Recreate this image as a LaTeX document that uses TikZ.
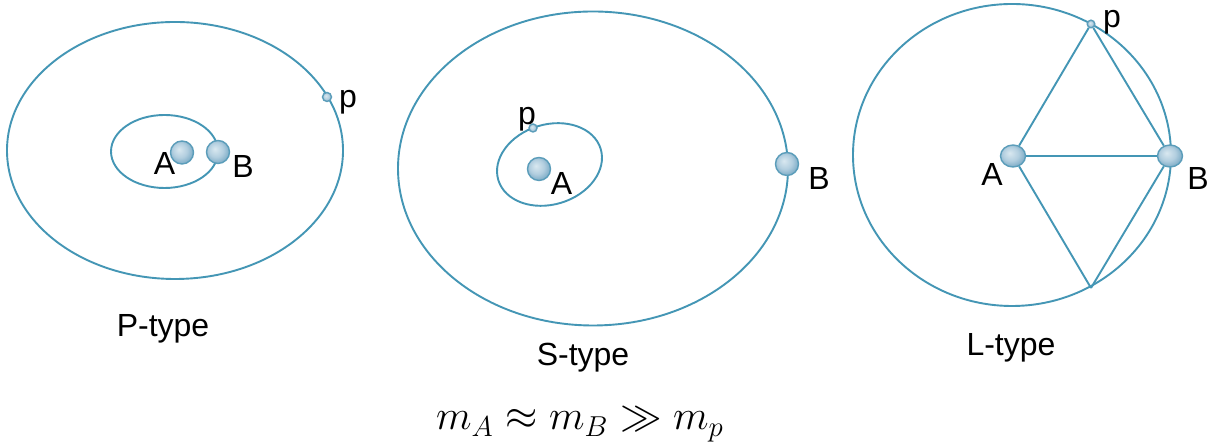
\documentclass[tikz,border=0pt]{standalone}
\usepackage{fontspec}
\newfontfamily\labelfont{Liberation Sans}
\usetikzlibrary{shapes.geometric}
\definecolor{ring}{HTML}{4496B5}
\definecolor{beadedge}{HTML}{5B9DBA}
\definecolor{beadlight}{HTML}{D9E8F0}
\definecolor{beadmid}{HTML}{B2CEDF}
\definecolor{beaddark}{HTML}{6FA3C0}
\pgfdeclareradialshading{bead}{\pgfpoint{-7bp}{7bp}}{%
  color(0bp)=(beadlight); color(16bp)=(beadmid); color(31bp)=(beaddark); color(50bp)=(beaddark)}
\tikzset{
  orbitline/.style={draw=ring, line width=0.95pt},
  body/.style={circle, draw=beadedge, line width=0.7pt, shading=bead,
    minimum size=11.5pt, inner sep=0pt},
  flatbody/.style={body, ellipse, minimum width=12.5pt, minimum height=11pt},
  planet/.style={body, minimum size=4.5pt},
  namelabel/.style={text=black, inner sep=0pt, font=\labelfont\fontsize{16}{19}\selectfont},
  typelabel/.style={namelabel, font=\labelfont\fontsize{16}{19}\selectfont}
}

\begin{document}
\begin{tikzpicture}[x=0.5pt,y=0.5pt]
  \useasboundingbox (0,0) rectangle (1211,448);
  \fill[white] (0,0) rectangle (1211,448);

  % P-type: planet round both stars
  \draw[orbitline] (175,297.5) ellipse [x radius=168, y radius=128.5];
  \draw[orbitline] (164.5,296.5) ellipse [x radius=53.5, y radius=36.5];
  \node[body] (pA) at (182,295.5) {};
  \node[body] (pB) at (218,296) {};
  \node[planet] (pp) at (327,351) {};
  \node[namelabel] (pAlbl) at (164.5,284) {A};
  \node[namelabel] (pBlbl) at (243,281) {B};
  \node[namelabel] (pplbl) at (348,346) {p};
  \node[typelabel] (ptype) at (163,119) {P-type};

  % S-type: planet round one star
  \draw[orbitline] (593,279.5) ellipse [x radius=195, y radius=157];
  \draw[orbitline] (549.5,283.5) ellipse [x radius=53.5, y radius=40, rotate=17];
  \node[body] (sA) at (539,279) {};
  \node[body] (sB) at (787,284) {};
  \node[planet, minimum size=4pt] (sp) at (533,320) {};
  \node[namelabel] (sAlbl) at (561.5,264) {A};
  \node[namelabel] (sBlbl) at (819,269) {B};
  \node[namelabel] (splbl) at (527,329) {p};
  \node[typelabel] (stype) at (583,90) {S-type};

  % L-type: planet at a Lagrange point
  \draw[orbitline] (1012,293) ellipse [x radius=159, y radius=151];
  \node[flatbody] (lA) at (1013,292) {};
  \node[flatbody] (lB) at (1170,292) {};
  \node[planet, minimum size=3.8pt] (lp) at (1091,424) {};
  \coordinate (lfive) at (1091,160);
  \draw[orbitline] (lA) -- (lp);
  \draw[orbitline] (lp) -- (lB);
  \draw[orbitline] (lA) -- (lB);
  \draw[orbitline] (lA) -- (lfive);
  \draw[orbitline] (lfive) -- (lB);
  \node[namelabel] (lAlbl) at (992,273) {A};
  \node[namelabel] (lBlbl) at (1198,269) {B};
  \node[namelabel] (lplbl) at (1112,426) {p};
  \node[typelabel] (ltype) at (1011,100) {L-type};

  \node[anchor=base, inner sep=0pt, font=\fontsize{20.5}{24}\selectfont] (masses) at (580,18)
    {$m_A \approx m_B \gg m_p$};
\end{tikzpicture}
\end{document}
